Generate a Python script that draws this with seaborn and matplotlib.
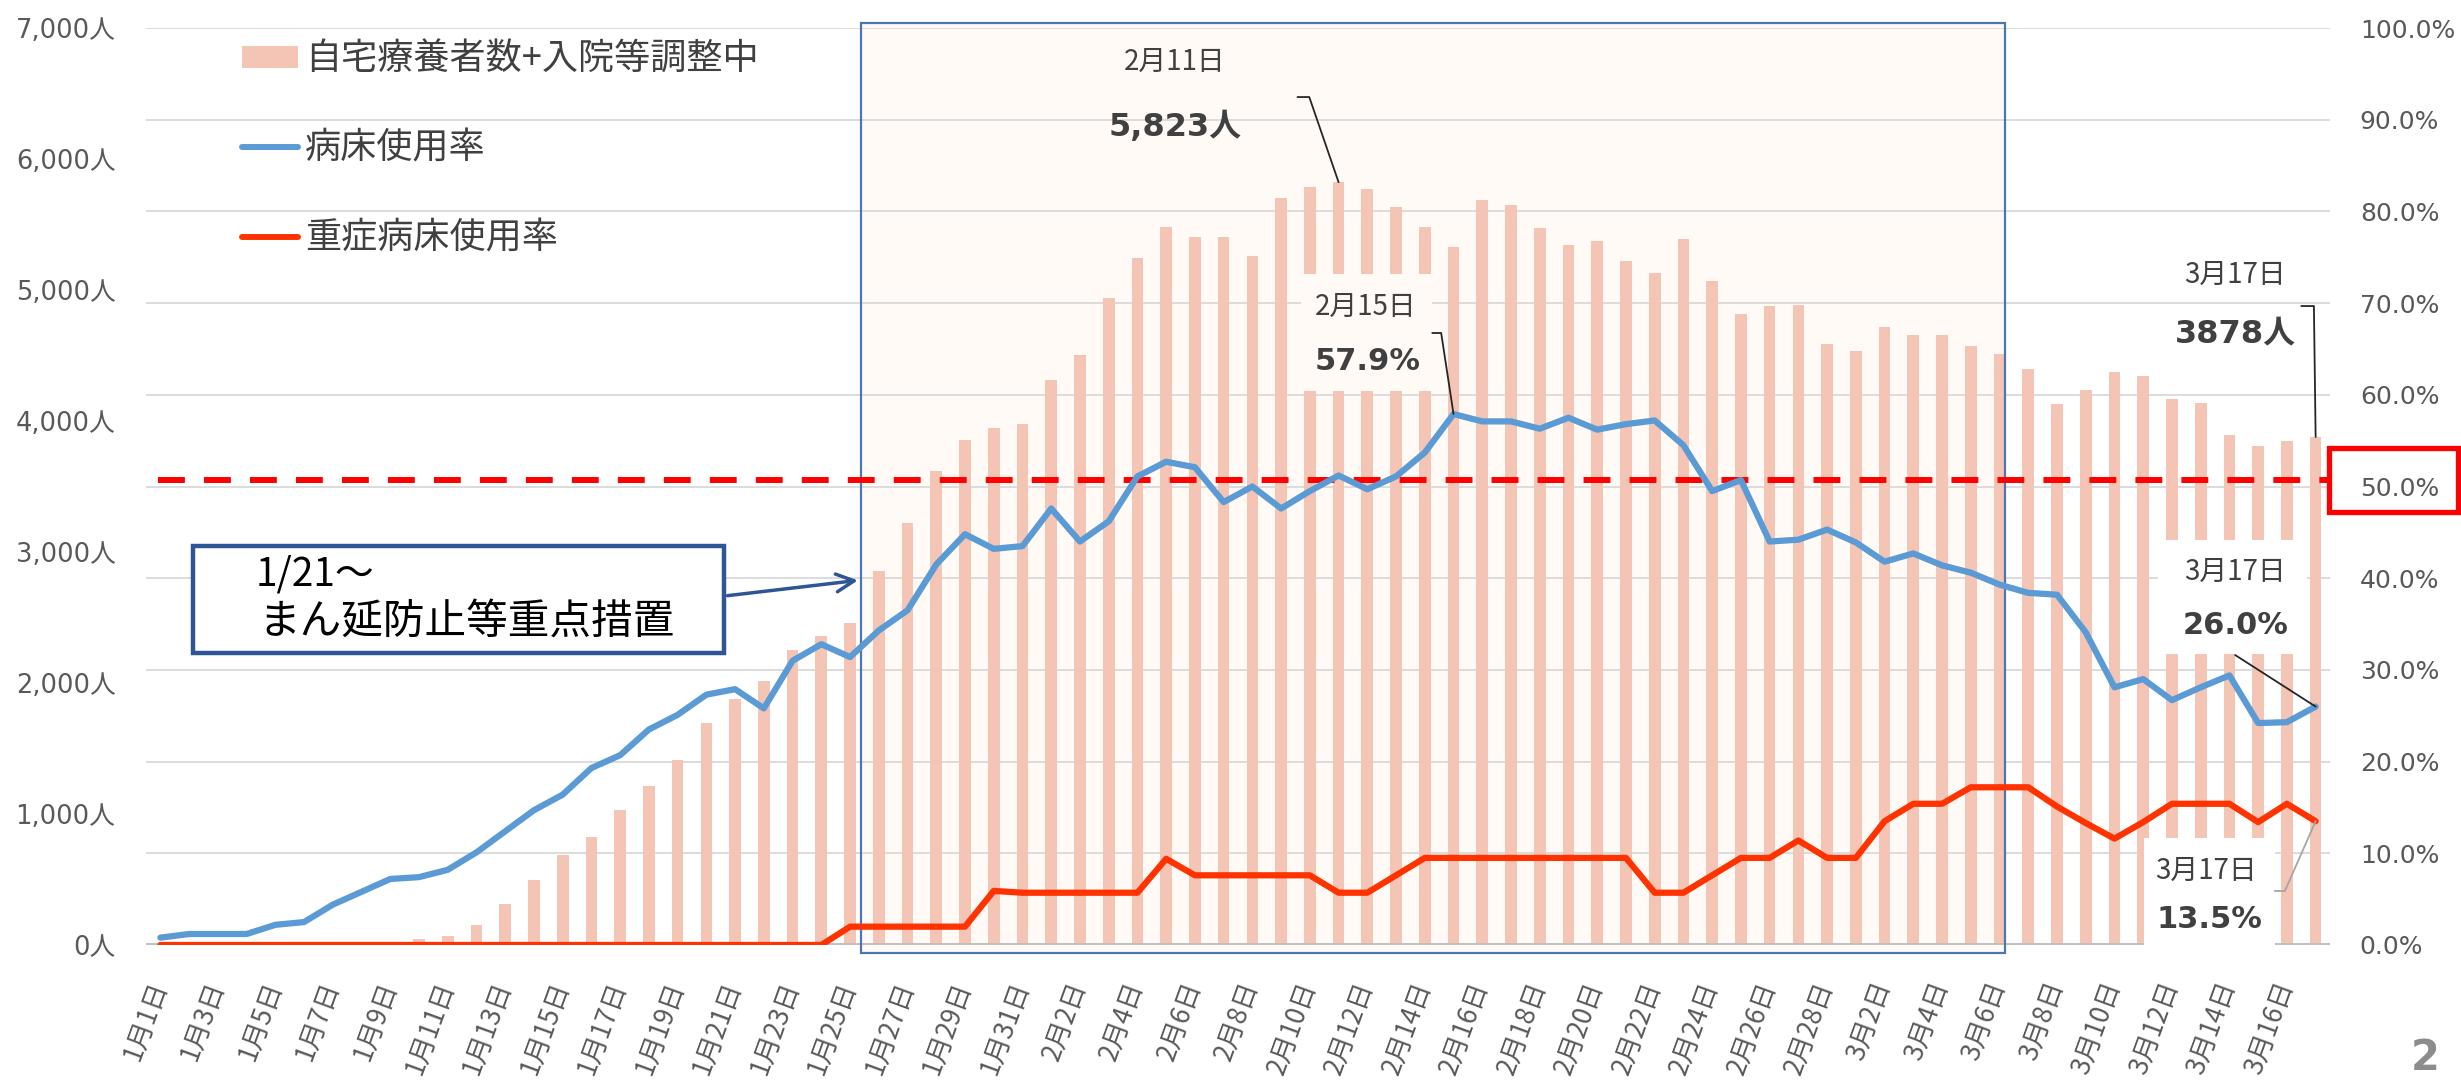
import numpy as np
import pandas as pd
import matplotlib
matplotlib.use("Agg")
import matplotlib.pyplot as plt
from matplotlib.patches import Rectangle
from matplotlib.lines import Line2D
import seaborn as sns

# ---------------- data ----------------
dates = ([f"1月{d}日" for d in range(1, 32)]
         + [f"2月{d}日" for d in range(1, 29)]
         + [f"3月{d}日" for d in range(1, 18)])

home_care = [0, 0, 0, 0, 0, 0, 0, 0, 25, 42,
             65, 152, 316, 500, 689, 825, 1031, 1212, 1409, 1694,
             1880, 2019, 2253, 2362, 2459, 2855, 3223, 3615, 3858, 3947,
             3979, 4314, 4504, 4941, 5244, 5483, 5402, 5402, 5260, 5705,
             5785, 5823, 5769, 5636, 5482, 5329, 5688, 5652, 5474, 5345,
             5377, 5220, 5127, 5389, 5070, 4816, 4877, 4885, 4586, 4533,
             4715, 4656, 4656, 4572, 4510, 4395, 4126, 4237, 4371, 4343,
             4167, 4140, 3891, 3808, 3846, 3878]

bed_rate = [0.8, 1.2, 1.2, 1.2, 2.2, 2.5, 4.4, 5.8, 7.2, 7.4,
            8.2, 10.1, 12.4, 14.7, 16.4, 19.3, 20.7, 23.5, 25.1, 27.3,
            27.9, 25.8, 31.0, 32.8, 31.4, 34.3, 36.5, 41.5, 44.8, 43.2,
            43.5, 47.6, 44.0, 46.2, 51.1, 52.7, 52.1, 48.3, 50.0, 47.6,
            49.5, 51.2, 49.7, 51.1, 53.7, 57.9, 57.1, 57.1, 56.3, 57.5,
            56.2, 56.8, 57.2, 54.5, 49.5, 50.7, 44.0, 44.2, 45.3, 43.9,
            41.8, 42.7, 41.4, 40.6, 39.3, 38.4, 38.2, 34.1, 28.1, 29.0,
            26.7, 28.1, 29.4, 24.2, 24.3, 26.0]

severe_rate = [0, 0, 0, 0, 0, 0, 0, 0, 0, 0,
               0, 0, 0, 0, 0, 0, 0, 0, 0, 0,
               0, 0, 0, 0, 2.0, 2.0, 2.0, 2.0, 2.0, 5.9,
               5.7, 5.7, 5.7, 5.7, 5.7, 9.4, 7.6, 7.6, 7.6, 7.6,
               7.6, 5.7, 5.7, 7.6, 9.5, 9.5, 9.5, 9.5, 9.5, 9.5,
               9.5, 9.5, 5.7, 5.7, 7.6, 9.5, 9.5, 11.4, 9.5, 9.5,
               13.5, 15.4, 15.4, 17.2, 17.2, 17.2, 15.1, 13.3, 11.6, 13.4,
               15.4, 15.4, 15.4, 13.4, 15.4, 13.5]

left_ticks = [0, 1000, 2000, 3000, 4000, 5000, 6000, 7000]
left_tick_labels = ["0人", "1,000人", "2,000人", "3,000人", "4,000人",
                    "5,000人", "6,000人", "7,000人"]
right_ticks = [0, 10, 20, 30, 40, 50, 60, 70, 80, 90, 100]
right_tick_labels = ["0.0%", "10.0%", "20.0%", "30.0%", "40.0%", "50.0%",
                     "60.0%", "70.0%", "80.0%", "90.0%", "100.0%"]
threshold = 50.7

legend_labels = ["自宅療養者数+入院等調整中", "病床使用率", "重症病床使用率"]

# ---------------- style ----------------
sns.set_theme(style="white")
plt.rcParams["font.family"] = ["Noto Sans CJK JP", "DejaVu Sans"]

BAR = "#F4C4B4"
BLUE = "#5B9BD5"
RED = "#FF3300"
GRAY_TXT = "#595959"
DARK_TXT = "#404040"
NAVY = "#2F5597"
NUMFAM = ["DejaVu Sans", "Noto Sans CJK JP"]

W, H = 2461, 1087
fig = plt.figure(figsize=(W / 100, H / 100), dpi=100)
fig.patch.set_facecolor("white")
ax = fig.add_axes([146 / W, 142 / H, 2184 / W, 917 / H])

df = pd.DataFrame({"date": dates, "home": home_care,
                   "bed": bed_rate, "severe": severe_rate,
                   "idx": np.arange(len(dates))})

# ---- bars (left axis) ----
sns.barplot(data=df, x="date", y="home", color=BAR, saturation=1,
            width=0.405, linewidth=0, ax=ax, zorder=2)
ax.set_xlim(-0.5, len(dates) - 0.5)
ax.set_ylim(0, 7000)

# gridlines (at right-axis ticks) behind bars
for v in right_ticks[1:]:
    ax.axhline(v / 100 * 7000, color="#D9D9D9", lw=1.3, zorder=0.8)
ax.axhline(0, color="#BFBFBF", lw=2.8, zorder=2.5)

# highlighted period box
bx0, bx1 = 24.37, 64.19
ax.add_patch(Rectangle((bx0, -0.0087 * 7000), bx1 - bx0, 1.0137 * 7000,
                       facecolor="#FFFAF6", edgecolor="none", zorder=0.5,
                       clip_on=False))
ax.add_patch(Rectangle((bx0, -0.0087 * 7000), bx1 - bx0, 1.0137 * 7000,
                       fill=False, edgecolor="#4A78AE", lw=1.6, zorder=3,
                       clip_on=False))

ax.set_xticks(range(0, len(dates), 2))
ax.set_xticklabels(dates[::2], rotation=70, ha="right", va="center",
                   rotation_mode="anchor", fontsize=19, color=GRAY_TXT)
ax.tick_params(axis="x", length=0, pad=27)
ax.set_yticks(left_ticks)
ax.set_yticklabels(left_tick_labels, fontfamily=NUMFAM, fontsize=18.5,
                   color=GRAY_TXT)
ax.tick_params(axis="y", length=0, pad=22)
ax.set_xlabel("")
ax.set_ylabel("")
for s in ax.spines.values():
    s.set_visible(False)

# ---- lines (right axis) ----
ax2 = ax.twinx()
ax2.set_ylim(0, 100)
ax2.axhline(threshold, xmin=0.0055, xmax=1, color="#FF0000", lw=4.3,
            dashes=(4.5, 3.2), zorder=3)
sns.lineplot(data=df, x="idx", y="bed", color=BLUE, linewidth=4.5, ax=ax2,
             zorder=4)
sns.lineplot(data=df, x="idx", y="severe", color=RED, linewidth=4.5, ax=ax2,
             zorder=4)
ax2.set_xlim(-0.5, len(dates) - 0.5)
ax2.set_yticks(right_ticks)
ax2.set_yticklabels(right_tick_labels, fontfamily="DejaVu Sans", fontsize=18,
                    color=GRAY_TXT)
ax2.tick_params(axis="y", length=0, pad=21.5)
ax2.set_ylabel("")
ax2.set_xlabel("")
for s in ax2.spines.values():
    s.set_visible(False)

# ---- legend ----
handles = [Rectangle((0, 0), 1, 1, facecolor=BAR, edgecolor="none"),
           Line2D([], [], color=BLUE, lw=4.3),
           Line2D([], [], color=RED, lw=4.3)]
leg = ax2.legend(handles, legend_labels, loc="upper left",
                 bbox_to_anchor=(242 / W, 1 - 41.5 / H),
                 bbox_transform=fig.transFigure, frameon=False, fontsize=26,
                 handlelength=1.55, handleheight=0.55, handletextpad=0.2,
                 labelspacing=1.48, borderpad=0, borderaxespad=0)
for t in leg.get_texts():
    t.set_color(DARK_TXT)
leg.set_zorder(7)

# ---- annotations ----
LEAD = "#262626"
last = len(dates) - 1
peak = int(np.argmax(home_care))
peak_bed = int(np.argmax(bed_rate))

# 2/11 peak of bars
ax2.text(35.3, 96.3, "2月11日", ha="center", va="center", fontsize=20,
         color=DARK_TXT, zorder=6)
ax2.text(35.3, 89.2, f"{home_care[peak]:,}人", ha="center", va="center",
         fontsize=23, fontweight="bold", fontfamily=NUMFAM, color=DARK_TXT,
         zorder=6)
ax2.plot([39.57, 39.98, peak], [92.47, 92.47, home_care[peak] / 70],
         color=LEAD, lw=1.3, zorder=6)

# 2/15 peak of bed rate
ax2.add_patch(Rectangle((39.7, 60.41), 4.56, 12.76, facecolor="#FFFAF6",
                        edgecolor="none", zorder=2))
ax2.text(41.95, 69.55, "2月15日", ha="center", va="center", fontsize=20,
         color=DARK_TXT, zorder=6)
ax2.text(42.0, 63.6, f"{bed_rate[peak_bed]:.1f}%", ha="center", va="center",
         fontsize=22, fontweight="bold", fontfamily="DejaVu Sans",
         color=DARK_TXT, zorder=6)
ax2.plot([44.26, 44.57, peak_bed], [66.74, 66.74, bed_rate[peak_bed]],
         color=LEAD, lw=1.3, zorder=6)

# 3/17 bars
ax2.text(72.2, 73.06, "3月17日", ha="center", va="center", fontsize=20,
         color=DARK_TXT, zorder=6)
ax2.text(72.2, 66.63, f"{home_care[last]}人", ha="center", va="center",
         fontsize=23, fontweight="bold", fontfamily=NUMFAM, color=DARK_TXT,
         zorder=6)
ax2.plot([74.5, 74.94, last], [69.68, 69.68, home_care[last] / 70],
         color=LEAD, lw=1.3, zorder=6)

# 3/17 bed rate
ax2.add_patch(Rectangle((69.51, 31.73), 5.19, 12.44, facecolor="white",
                        edgecolor="none", zorder=2))
ax2.text(72.2, 40.68, "3月17日", ha="center", va="center", fontsize=20,
         color=DARK_TXT, zorder=6)
ax2.text(72.2, 34.8, f"{bed_rate[last]:.1f}%", ha="center", va="center",
         fontsize=22, fontweight="bold", fontfamily="DejaVu Sans",
         color=DARK_TXT, zorder=6)
ax2.plot([72.2, last], [31.62, bed_rate[last]], color=LEAD, lw=1.3, zorder=6)

# 3/17 severe rate
ax2.add_patch(Rectangle((69.03, -0.3), 4.55, 11.98, facecolor="white",
                        edgecolor="none", zorder=2, clip_on=False))
ax2.text(71.2, 8.07, "3月17日", ha="center", va="center", fontsize=20,
         color=DARK_TXT, zorder=6)
ax2.text(71.3, 2.75, f"{severe_rate[last]:.1f}%", ha="center", va="center",
         fontsize=22, fontweight="bold", fontfamily="DejaVu Sans",
         color=DARK_TXT, zorder=6)
ax2.plot([73.58, 73.93, last], [5.89, 5.89, severe_rate[last]],
         color="#A6A6A6", lw=1.3, zorder=6)

# 1/21 measure box with arrow
ax2.add_patch(Rectangle((1.15, 31.84), 18.45, 11.62, facecolor="white",
                        edgecolor=NAVY, lw=3.2, zorder=6))
ax2.text(3.3, 40.4, "1/21〜", ha="left", va="center", fontsize=28,
         color="black", zorder=7)
ax2.text(3.4, 35.2, "まん延防止等重点措置", ha="left", va="center",
         fontsize=30, color="black", zorder=7)
ax2.annotate("", xy=(24.37, 39.8), xytext=(19.64, 38.06),
             arrowprops=dict(arrowstyle="->", color=NAVY, lw=2.5,
                             mutation_scale=32), zorder=7)

# red frame around 50% label
fig.add_artist(Rectangle((2329 / W, 1 - 512 / H), 129 / W, 64 / H,
                         transform=fig.transFigure, fill=False,
                         edgecolor="#FF0000", lw=3.8))
# page number
fig.text(2425 / W, 1 - 1058 / H, "2", ha="center", va="center", fontsize=30,
         fontweight="bold", fontfamily="DejaVu Sans", color="#8C8C8C")

fig.savefig("out.png", dpi=100)
